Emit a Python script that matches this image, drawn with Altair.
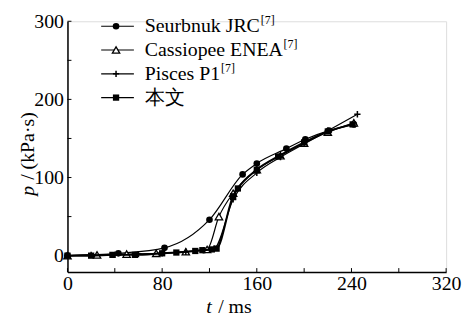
import altair as alt
import pandas as pd

# ---------------- data ----------------
series_names = ["Seurbnuk JRC", "Cassiopee ENEA", "Pisces P1", "本文"]
series_sup = ["[7]", "[7]", "[7]", ""]

jrc_t = [0, 43, 82, 120, 148, 160, 185, 201, 221, 242]
jrc_p = [0, 3, 10, 46, 104, 118, 137, 149, 160, 168]

cas_t = [0, 25, 50, 75, 100, 118, 128, 140, 160, 180, 200, 220, 242]
cas_p = [0, 1, 2, 3, 5, 8, 50, 80, 110, 128, 144, 158, 170]

pis_t = [0, 20, 40, 60, 80, 100, 115, 124, 140, 160, 180, 200, 220, 245]
pis_p = [0, 1, 1, 2, 3, 5, 7, 9, 72, 106, 126, 143, 160, 181]

own_t = [0, 20, 38, 57, 80, 92, 108, 114, 122, 126, 140, 144, 160, 178, 200, 220, 241]
own_p = [0, 0, 1, 1, 3, 4, 6, 7, 8, 9, 76, 86, 110, 127, 145, 159, 168]

x_ticks = [0, 40, 80, 120, 160, 200, 240, 280, 320]
x_labels = [0, 80, 160, 240, 320]
y_ticks = [0, 50, 100, 150, 200, 250, 300]
y_labels = [0, 100, 200, 300]

# ---------------- layout / style ----------------
W, H = 382, 253
FONT = "Liberation Serif"
FS = 20
PLUS = "M-1,0L1,0M0,-1L0,1"
styles = [
    dict(shape="circle", filled=True, size=45, sw=1.2, lw=1.2),
    dict(shape="triangle-up", filled=False, size=55, sw=1.3, lw=1.2),
    dict(shape=PLUS, filled=False, size=40, sw=1.5, lw=1.2),
    dict(shape="square", filled=True, size=40, sw=1, lw=2.0),
]
label_widths = [117, 140, 77, 0]

frames = []
for name, ts, ps in zip(series_names, [jrc_t, cas_t, pis_t, own_t], [jrc_p, cas_p, pis_p, own_p]):
    frames.append(pd.DataFrame({"series": name, "t": ts, "p": ps}))
df = pd.concat(frames, ignore_index=True)

xs = alt.Scale(domain=[0, 320], nice=False, zero=False)
ys = alt.Scale(domain=[-21, 300], nice=False, zero=False)

x_axis = alt.Axis(values=x_labels, ticks=False, grid=False, title=None, labelFlush=False,
                  labelFont=FONT, labelFontSize=FS, labelColor="black", labelPadding=2,
                  domainColor="black", domainWidth=1.5, labelOverlap=False)
y_axis = alt.Axis(values=y_labels, ticks=False, grid=False, title=None, labelFlush=False,
                  labelFont=FONT, labelFontSize=FS, labelColor="black", labelPadding=4,
                  domainColor="black", domainWidth=1.5, labelOverlap=False)


def X(field):
    return alt.X(field, scale=xs, axis=x_axis)


def Y(field):
    return alt.Y(field, scale=ys, axis=y_axis)


layers = []
for i, name in enumerate(series_names):
    st = styles[i]
    sub = df[df.series == name]
    base = alt.Chart(sub)
    line = base.mark_line(color="black", strokeWidth=st["lw"], interpolate="monotone").encode(
        x=X("t:Q"), y=Y("p:Q"))
    pts = base.mark_point(shape=st["shape"], filled=st["filled"], size=st["size"],
                          color="black", fill="black" if st["filled"] else "white",
                          strokeWidth=st["sw"], opacity=1).encode(x=X("t:Q"), y=Y("p:Q"))
    layers += [line, pts]

# inward ticks
xt = alt.Chart(pd.DataFrame({"t": x_ticks})).mark_rule(color="black", strokeWidth=1).encode(
    x=X("t:Q"), y=alt.value(H), y2=alt.value(H - 4))
yt = alt.Chart(pd.DataFrame({"p": y_ticks})).mark_rule(color="black", strokeWidth=1).encode(
    y=Y("p:Q"), x=alt.value(0), x2=alt.value(4))
layers += [xt, yt]

# legend
leg = pd.DataFrame({"label": series_names, "sup": series_sup, "idx": list(range(4)),
                    "w": label_widths})
leg_base = alt.Chart(leg).transform_calculate(ly="5 + 24 * datum.idx")
layers.append(leg_base.mark_rule(color="black", strokeWidth=1.2).encode(
    x=alt.value(34), x2=alt.value(67), y=alt.Y("ly:Q", scale=None)))
for i, name in enumerate(series_names):
    st = styles[i]
    layers.append(alt.Chart(leg[leg.label == name]).transform_calculate(ly="5 + 24 * datum.idx")
                  .mark_point(shape=st["shape"], filled=st["filled"], size=st["size"],
                              color="black", fill="black" if st["filled"] else "white",
                              strokeWidth=st["sw"], opacity=1)
                  .encode(x=alt.value(49), y=alt.Y("ly:Q", scale=None)))
layers.append(leg_base.mark_text(align="left", baseline="middle", font=FONT, fontSize=FS,
                                 color="black").encode(
    x=alt.value(78), y=alt.Y("ly:Q", scale=None), text="label:N"))
layers.append(leg_base.transform_calculate(sx="78 + datum.w", sy="5 + 24 * datum.idx - 6")
              .mark_text(align="left", baseline="middle", font=FONT, fontSize=12, color="black")
              .encode(x=alt.X("sx:Q", scale=None), y=alt.Y("sy:Q", scale=None), text="sup:N"))

# axis titles
one = pd.DataFrame({"a": [0]})
layers.append(alt.Chart(one).mark_text(text="t", align="left", baseline="middle", font=FONT,
                                       fontSize=FS, fontStyle="italic", color="black")
              .encode(x=alt.value(140), y=alt.value(288)))
layers.append(alt.Chart(one).mark_text(text="/ ms", align="left", baseline="middle", font=FONT,
                                       fontSize=FS, color="black")
              .encode(x=alt.value(152), y=alt.value(288)))
layers.append(alt.Chart(one).mark_text(text="p", align="left", baseline="middle", font=FONT,
                                       fontSize=FS, fontStyle="italic", color="black", angle=270)
              .encode(x=alt.value(-40), y=alt.value(176)))
layers.append(alt.Chart(one).mark_text(text="/ (kPa·s)", align="left", baseline="middle",
                                       font=FONT, fontSize=FS, color="black", angle=270)
              .encode(x=alt.value(-40), y=alt.value(160)))

chart = alt.layer(*layers).properties(
    width=W, height=H,
    autosize=alt.AutoSizeParams(type="none"),
    padding={"left": 60, "top": 12, "right": 16, "bottom": 50},
).configure_view(stroke=None).configure(background="white")

chart.save("out.html", embed_options={"renderer": "svg", "actions": False})
